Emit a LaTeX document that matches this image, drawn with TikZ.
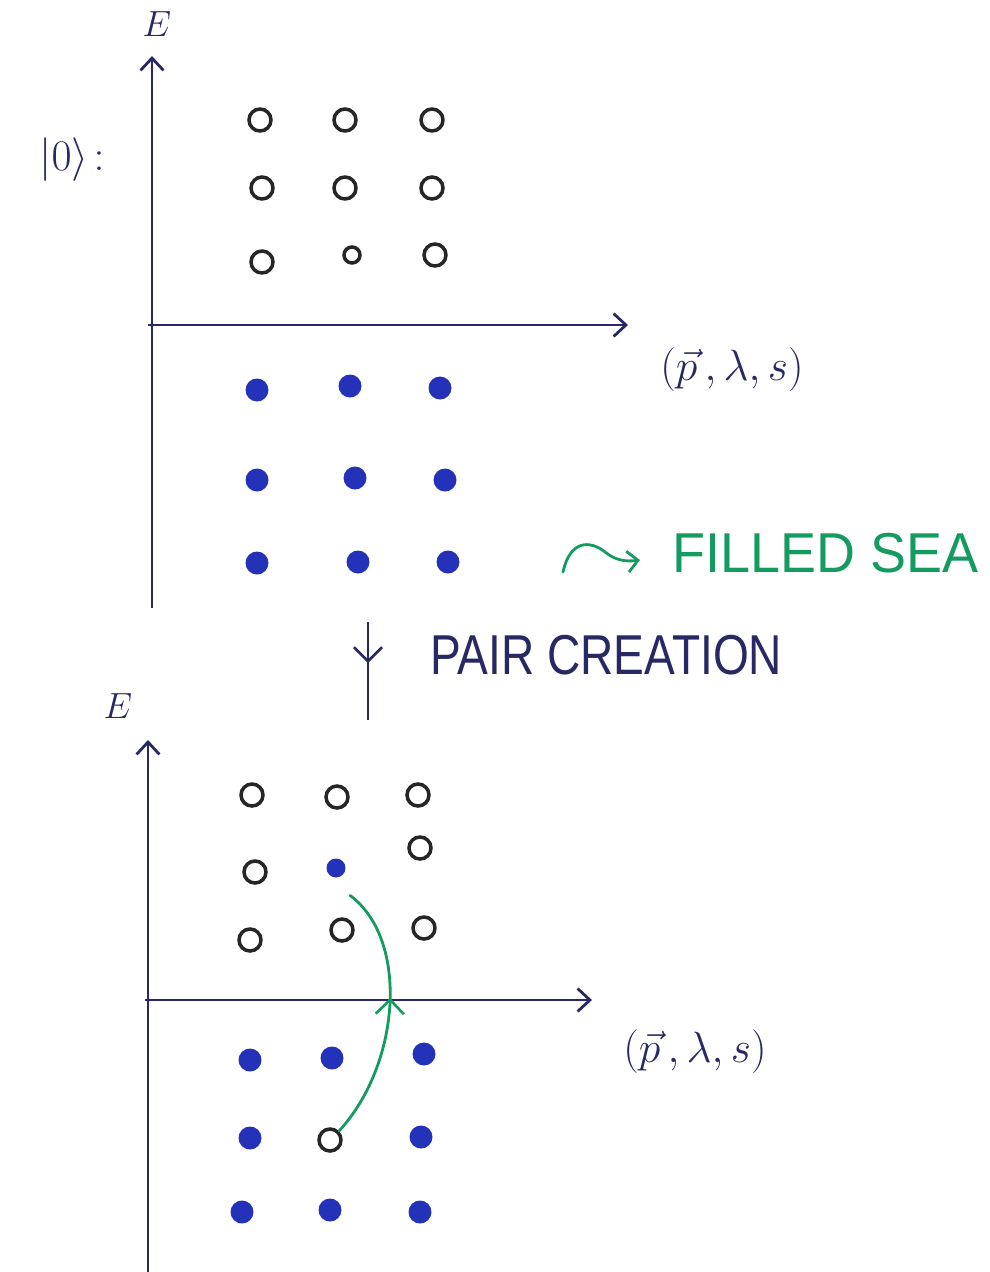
\documentclass[tikz,border=0pt]{standalone}
\usepackage{fontspec}
\usepackage{graphicx}
\usetikzlibrary{arrows.meta,decorations.markings}
\setsansfont{Liberation Sans}
\definecolor{axiscol}{RGB}{40,40,100}
\definecolor{dotblue}{RGB}{35,50,185}
\definecolor{seagreen}{RGB}{20,155,95}
\begin{document}
\begin{tikzpicture}[x=0.02cm,y=-0.02cm,
  axis/.style={draw=axiscol,line width=1.6pt,-{Straight Barb[length=7pt,width=13pt,line width=1.6pt]}},
  hole/.style={circle,draw=black!85,line width=2pt,minimum size=0.44cm,inner sep=0pt},
  part/.style={circle,fill=dotblue,minimum size=0.46cm,inner sep=0pt},
  lab/.style={text=axiscol,inner sep=0pt},
  caps/.style={font=\sffamily\fontsize{32}{36}\selectfont,inner sep=0pt},
  midarrow/.style={postaction={decorate},decoration={markings,
     mark=at position #1 with {\arrow{Straight Barb[length=8pt,width=16pt,line width=1.5pt]}}}}
]
\useasboundingbox (0,0) rectangle (990,1272);
% ---------- top diagram ----------
\coordinate (t0) at (152,608);
\coordinate (t1) at (152,56);
\coordinate (h0) at (148,325);
\coordinate (h1) at (628,325);
\draw[axis] (t0) -- (t1);
\draw[axis] (h0) -- (h1);
\node[lab,font=\fontsize{22}{24}\selectfont] (E1) at (157,24) {$E$};
\node[lab,font=\fontsize{30}{34}\selectfont] (vac) at (72,160) {$|0\rangle\!:$};
\node[lab,font=\fontsize{28}{32}\selectfont] (pl1) at (732,370) {$(\vec{p}\,,\lambda,s)$};
% empty positive-energy states
\node[hole] (a11) at (260,120) {};
\node[hole] (a12) at (345,120) {};
\node[hole] (a13) at (432,120) {};
\node[hole] (a21) at (262,188) {};
\node[hole] (a22) at (345,188) {};
\node[hole] (a23) at (432,188) {};
\node[hole] (a31) at (262,262) {};
\node[hole,minimum size=0.32cm] (a32) at (352,255) {};
\node[hole] (a33) at (435,255) {};
% filled sea
\node[part] (b11) at (257,390) {};
\node[part] (b12) at (350,386) {};
\node[part] (b13) at (440,388) {};
\node[part] (b21) at (257,480) {};
\node[part] (b22) at (355,478) {};
\node[part] (b23) at (445,480) {};
\node[part] (b31) at (257,563) {};
\node[part] (b32) at (358,562) {};
\node[part] (b33) at (448,562) {};
\node[caps,text=seagreen,anchor=west] (sea) at (672,553) {\scalebox{0.96}[1]{FILLED SEA}};
\coordinate (w0) at (563,572);
\coordinate (w1) at (640,560);
\draw[seagreen,line width=1.6pt,line cap=round,-{Straight Barb[length=6pt,width=12pt,line width=1.6pt]}]
  (w0) .. controls (570,540) and (590,540) .. (605,552) .. controls (615,560) and (625,562) .. (w1);
% ---------- pair creation ----------
\coordinate (pc0) at (368,622);
\coordinate (pc1) at (368,720);
\draw[axiscol,line width=1.7pt,midarrow=0.42] (pc0) -- (pc1);
\node[caps,text=axiscol,anchor=west] (pair) at (430,655) {\scalebox{0.82}[1]{PAIR CREATION}};
% ---------- bottom diagram ----------
\coordinate (u0) at (148,1272);
\coordinate (u1) at (148,740);
\coordinate (k0) at (145,1000);
\coordinate (k1) at (592,1000);
\draw[axis] (u0) -- (u1);
\draw[axis] (k0) -- (k1);
\node[lab,font=\fontsize{22}{24}\selectfont] (E2) at (118,706) {$E$};
\node[lab,font=\fontsize{28}{32}\selectfont] (pl2) at (695,1052) {$(\vec{p}\,,\lambda,s)$};
\node[hole] (c11) at (252,795) {};
\node[hole] (c12) at (337,797) {};
\node[hole] (c13) at (418,795) {};
\node[hole] (c21) at (255,872) {};
\node[part,minimum size=0.38cm] (c22) at (336,868) {};
\node[hole] (c23) at (420,848) {};
\node[hole] (c31) at (250,940) {};
\node[hole] (c32) at (342,930) {};
\node[hole] (c33) at (424,928) {};
\node[part] (d11) at (250,1060) {};
\node[part] (d12) at (332,1058) {};
\node[part] (d13) at (424,1054) {};
\node[part] (d21) at (250,1138) {};
\node[hole] (d22) at (330,1140) {};
\node[part] (d23) at (421,1137) {};
\node[part] (d31) at (242,1212) {};
\node[part] (d32) at (330,1210) {};
\node[part] (d33) at (420,1212) {};
\draw[seagreen,line width=1.6pt,line cap=round,midarrow=0.56]
  (d22.north east) .. controls (400,1065) and (410,940) .. ([xshift=8pt,yshift=-10pt]c22.south);
\end{tikzpicture}
\end{document}
